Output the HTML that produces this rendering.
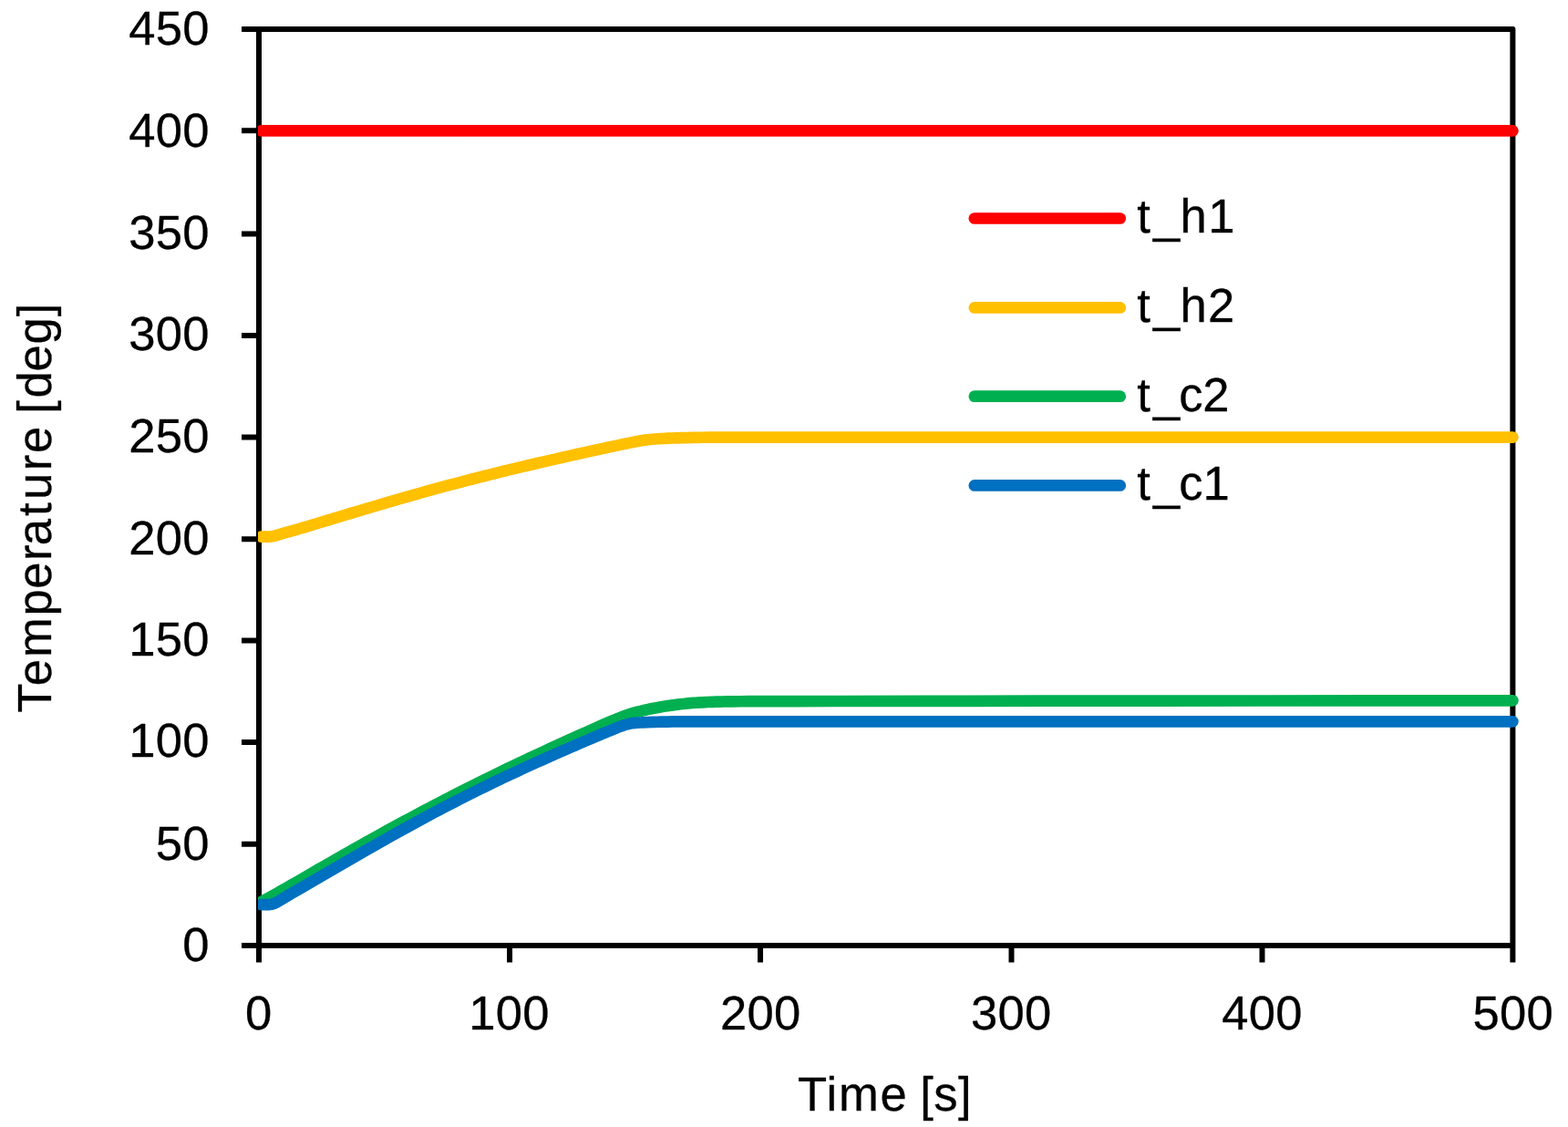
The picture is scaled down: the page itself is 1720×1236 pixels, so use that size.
<!DOCTYPE html>
<html lang="en">
<head>
<meta charset="utf-8">
<title>Temperature vs Time</title>
<style>
html,body{margin:0;padding:0;background:#ffffff;}
body{width:1720px;height:1236px;overflow:hidden;}
svg{display:block;}
</style>
</head>
<body>
<svg width="1720" height="1236" viewBox="0 0 1720 1236">
<defs><clipPath id="pc"><rect x="283" y="0" width="1437" height="1236"/></clipPath></defs>
<rect x="0" y="0" width="1720" height="1236" fill="#ffffff"/>
<g fill="none" stroke="#000000" stroke-width="6" stroke-linejoin="round">
<path d="M265,32 H1659.4 V1055.6"/>
<path d="M284,29 V1055.6"/>
<path d="M265,1037 H1659.4"/>
<path d="M265,925.70 H284 M265,814.00 H284 M265,702.55 H284 M265,591.20 H284 M265,479.40 H284 M265,368.05 H284 M265,256.50 H284 M265,143.35 H284"/>
<path d="M559.05,1037 V1055.6 M834.05,1037 V1055.6 M1109.50,1037 V1055.6 M1384.50,1037 V1055.6"/>
</g>
<g fill="none" stroke-width="12.7" stroke-linecap="round" stroke-linejoin="round" clip-path="url(#pc)">
<path stroke="#FF0000" d="M286.75,143.44 L1659.40,143.44"/>
<path stroke="#FFC000" d="M286.75,588.55 L295.00,588.55 L297.75,588.33 L300.50,587.88 L303.26,587.21 L306.01,586.31 L308.76,585.42 L311.51,584.64 L314.26,583.87 L319.76,582.36 L322.51,581.60 L325.26,580.82 L328.01,580.02 L330.76,579.21 L336.27,577.57 L347.27,574.28 L361.02,570.14 L374.78,565.99 L385.78,562.68 L394.03,560.21 L402.28,557.75 L413.29,554.49 L421.54,552.06 L427.04,550.45 L432.54,548.85 L438.04,547.26 L446.30,544.90 L451.80,543.33 L457.30,541.78 L462.80,540.24 L468.30,538.72 L476.56,536.45 L482.06,534.94 L487.56,533.45 L493.06,531.98 L498.56,530.52 L506.81,528.36 L512.32,526.93 L517.82,525.50 L526.07,523.39 L531.57,521.99 L537.07,520.60 L542.58,519.23 L548.08,517.87 L553.58,516.52 L559.08,515.19 L564.58,513.86 L572.83,511.90 L581.09,509.95 L589.34,508.01 L597.59,506.09 L603.09,504.82 L608.59,503.57 L616.85,501.70 L625.10,499.85 L633.35,498.02 L644.35,495.59 L652.61,493.78 L658.11,492.59 L666.36,490.82 L671.86,489.65 L680.12,487.88 L682.87,487.29 L685.62,486.72 L691.12,485.63 L696.62,484.51 L699.37,483.97 L702.12,483.46 L704.87,482.99 L707.62,482.58 L710.37,482.24 L713.12,481.96 L715.88,481.71 L718.63,481.48 L721.38,481.29 L724.13,481.12 L726.88,480.98 L729.63,480.84 L732.38,480.71 L735.13,480.59 L737.88,480.48 L740.63,480.39 L743.38,480.30 L748.89,480.16 L754.39,480.03 L759.89,479.92 L765.39,479.82 L770.89,479.74 L776.39,479.69 L787.40,479.64 L801.15,479.60 L814.90,479.57 L828.66,479.56 L1659.40,479.56"/>
<path stroke="#00B050" d="M286.75,989.05 L289.50,987.56 L292.25,986.05 L297.75,983.01 L303.26,979.95 L308.76,976.86 L314.26,973.75 L319.76,970.62 L322.51,969.04 L325.26,967.45 L333.51,962.64 L344.52,956.25 L350.02,953.07 L355.52,949.90 L363.77,945.18 L377.53,937.33 L383.03,934.20 L388.53,931.09 L394.03,927.99 L402.28,923.37 L410.54,918.77 L416.04,915.72 L421.54,912.68 L427.04,909.66 L432.54,906.65 L438.04,903.66 L443.55,900.69 L449.05,897.73 L454.55,894.78 L460.05,891.85 L465.55,888.93 L471.05,886.03 L476.56,883.14 L482.06,880.27 L487.56,877.42 L493.06,874.58 L498.56,871.76 L504.06,868.96 L509.57,866.17 L515.07,863.39 L520.57,860.64 L526.07,857.90 L531.57,855.18 L539.82,851.11 L545.33,848.41 L550.83,845.74 L556.33,843.09 L561.83,840.46 L570.08,836.53 L575.58,833.93 L581.09,831.34 L586.59,828.76 L592.09,826.19 L597.59,823.64 L603.09,821.10 L608.59,818.58 L616.85,814.82 L625.10,811.08 L630.60,808.60 L636.10,806.14 L644.35,802.46 L649.86,800.02 L658.11,796.32 L660.86,795.10 L663.61,793.90 L671.86,790.42 L674.61,789.26 L677.36,788.13 L680.12,787.02 L682.87,785.95 L685.62,784.92 L688.37,783.94 L691.12,783.03 L693.87,782.21 L696.62,781.46 L699.37,780.73 L702.12,780.04 L704.87,779.37 L707.62,778.72 L710.37,778.11 L713.12,777.53 L715.88,776.96 L718.63,776.42 L721.38,775.91 L724.13,775.43 L726.88,774.99 L729.63,774.56 L732.38,774.15 L735.13,773.75 L737.88,773.36 L740.63,773.00 L743.38,772.65 L746.13,772.31 L748.89,772.00 L751.64,771.69 L754.39,771.39 L757.14,771.13 L759.89,770.91 L762.64,770.74 L765.39,770.58 L768.14,770.43 L770.89,770.29 L773.64,770.15 L776.39,770.03 L779.14,769.91 L781.89,769.80 L784.65,769.71 L787.40,769.62 L790.15,769.55 L792.90,769.49 L795.65,769.45 L803.90,769.34 L812.15,769.25 L820.41,769.18 L825.91,769.14 L831.41,769.12 L847.91,769.08 L869.92,769.05 L913.93,769.00 L1065.23,768.81 L1142.25,768.71 L1260.53,768.60 L1389.82,768.49 L1499.85,768.42 L1596.13,768.36 L1659.40,768.33"/>
<path stroke="#0070C0" d="M286.75,992.15 L295.00,992.15 L297.75,991.81 L300.50,990.99 L303.26,989.71 L306.01,988.09 L308.76,986.51 L311.51,984.86 L317.01,981.50 L319.76,979.86 L322.51,978.26 L325.26,976.67 L333.51,971.94 L339.02,968.76 L352.77,960.77 L366.52,952.76 L374.78,947.97 L383.03,943.20 L391.28,938.44 L396.78,935.27 L405.04,930.55 L410.54,927.41 L416.04,924.28 L421.54,921.17 L427.04,918.07 L432.54,914.99 L438.04,911.93 L443.55,908.89 L449.05,905.86 L454.55,902.85 L460.05,899.85 L465.55,896.88 L471.05,893.93 L476.56,891.00 L482.06,888.10 L487.56,885.21 L493.06,882.34 L498.56,879.50 L504.06,876.68 L509.57,873.89 L515.07,871.12 L520.57,868.37 L526.07,865.64 L531.57,862.94 L537.07,860.25 L542.58,857.58 L548.08,854.94 L550.83,853.63 L556.33,851.02 L561.83,848.45 L567.33,845.88 L572.83,843.34 L578.34,840.81 L583.84,838.30 L589.34,835.81 L594.84,833.34 L600.34,830.89 L605.84,828.45 L611.35,826.04 L619.60,822.43 L625.10,820.04 L630.60,817.65 L636.10,815.28 L644.35,811.76 L649.86,809.41 L652.61,808.22 L658.11,805.83 L660.86,804.66 L663.61,803.52 L666.36,802.42 L669.11,801.31 L674.61,799.05 L677.36,797.94 L680.12,796.88 L682.87,795.90 L685.62,795.01 L688.37,794.24 L691.12,793.61 L693.87,793.10 L696.62,792.81 L699.37,792.62 L702.12,792.47 L704.87,792.35 L715.88,791.94 L718.63,791.85 L721.38,791.76 L724.13,791.69 L732.38,791.53 L737.88,791.43 L740.63,791.40 L743.38,791.36 L746.13,791.34 L748.89,791.33 L1659.40,791.33"/>
</g>
<g fill="none" stroke-width="12.7" stroke-linecap="round">
<path stroke="#FF0000" d="M1068.85,239.5 H1228.75"/>
<path stroke="#FFC000" d="M1068.85,337.4 H1228.75"/>
<path stroke="#00B050" d="M1068.85,434.7 H1228.75"/>
<path stroke="#0070C0" d="M1068.85,532.4 H1228.75"/>
</g>
<g font-family="'Liberation Sans', sans-serif" font-size="52.6px" fill="#000000" stroke="#000000" stroke-width="0.3" stroke-linejoin="round">
<text x="1247.14 1264.98 1294.51 1325.35" y="255.2">t_h1</text>
<text x="1247.14 1264.98 1294.51 1324.92" y="353.4">t_h2</text>
<text x="1247.14 1264.98 1293.18 1319.37" y="451">t_c2</text>
<text x="1247.14 1264.98 1293.18 1319.55" y="548.3">t_c1</text>
<text x="200.3" y="1054.00">0</text>
<text x="170.8 200.3" y="942.70">50</text>
<text x="141.3 170.8 200.3" y="830.10">100</text>
<text x="141.3 170.8 200.3" y="718.95">150</text>
<text x="141.3 170.8 200.3" y="607.70">200</text>
<text x="141.3 170.8 200.3" y="495.60">250</text>
<text x="141.3 170.8 200.3" y="384.35">300</text>
<text x="141.3 170.8 200.3" y="273.20">350</text>
<text x="141.3 170.8 200.3" y="161.00">400</text>
<text x="141.3 170.8 200.3" y="48.90">450</text>
<text x="269.05" y="1129.3">0</text>
<text x="514.35 543.85 573.35" y="1129.3">100</text>
<text x="789.95 819.45 848.95" y="1129.3">200</text>
<text x="1065.05 1094.55 1124.05" y="1129.3">300</text>
<text x="1340.15 1369.65 1399.15" y="1129.3">400</text>
<text x="1615.55 1645.05 1674.55" y="1129.3">500</text>
<text x="874.97 906.47 920.08 965.62 994.88 1009.22 1024.32 1050.91" y="1217.7">Time [s]</text>
<text transform="translate(56,779.4) rotate(-90)" x="-2.45 27.22 58.33 103.88 133.67 164.53 181.16 213.29 231.51 263.23 282.32 311.58 325.77 342.96 371.97 402.01 432.06" y="0">Temperature [deg]</text>
</g>
</svg>
</body>
</html>
